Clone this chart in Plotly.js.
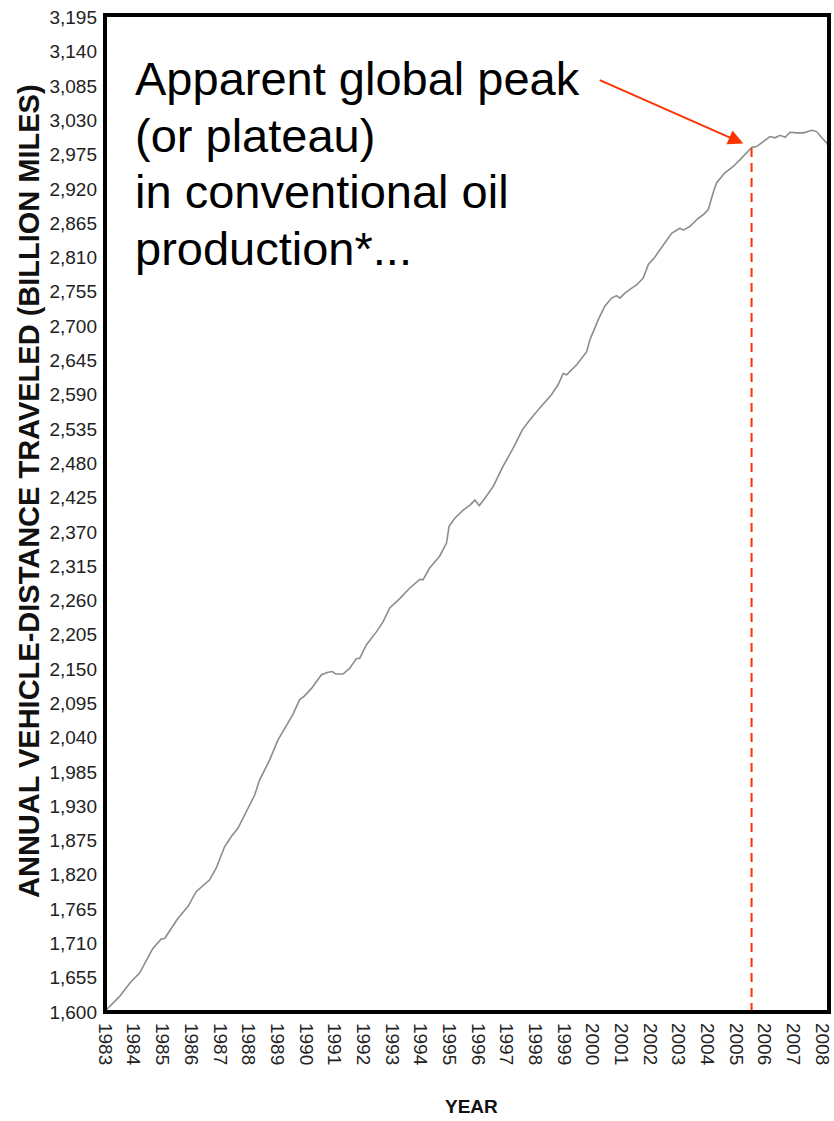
<!DOCTYPE html>
<html>
<head>
<meta charset="utf-8">
<script src="https://cdn.plot.ly/plotly-3.0.1.min.js"></script>
<style>
  html, body { margin: 0; padding: 0; background: #ffffff; }
  #chart { width: 834px; height: 1121px; }
</style>
</head>
<body>
<div id="chart"></div>
<script>
// ---- Data ----
const years = [
  1983.00, 1983.10, 1983.51, 1983.91, 1984.20, 1984.67, 1984.96, 1985.08, 1985.31, 1985.54,
  1985.89, 1986.18, 1986.65, 1986.88, 1987.17, 1987.40, 1987.64, 1987.93, 1988.22, 1988.39,
  1988.74, 1989.03, 1989.27, 1989.55, 1989.79, 1989.96, 1990.20, 1990.55, 1990.78, 1990.93,
  1991.05, 1991.30, 1991.53, 1991.77, 1991.88, 1992.12, 1992.47, 1992.70, 1992.93, 1993.28,
  1993.63, 1993.98, 1994.09, 1994.32, 1994.67, 1994.91, 1995.00, 1995.20, 1995.49, 1995.73,
  1995.90, 1996.05, 1996.25, 1996.54, 1996.88, 1997.23, 1997.56, 1997.82, 1998.17, 1998.57,
  1998.80, 1998.98, 1999.10, 1999.45, 1999.80, 1999.91, 2000.20, 2000.43, 2000.67, 2000.84,
  2000.96, 2001.13, 2001.37, 2001.54, 2001.77, 2001.95, 2002.18, 2002.53, 2002.76, 2003.05,
  2003.17, 2003.40, 2003.69, 2003.87, 2004.04, 2004.21, 2004.33, 2004.62, 2004.91, 2005.15,
  2005.32, 2005.56, 2005.73, 2005.90, 2006.02, 2006.19, 2006.37, 2006.54, 2006.72, 2006.89,
  2007.13, 2007.36, 2007.65, 2007.82, 2008.00, 2008.17, 2008.23
];
const vmtBillionMiles = [
  1602, 1606, 1625, 1649, 1662, 1702, 1717, 1718, 1734, 1750,
  1769, 1793, 1812, 1831, 1865, 1881, 1895, 1921, 1948, 1972,
  2004, 2036, 2055, 2077, 2101, 2107, 2119, 2141, 2145, 2146,
  2142, 2142, 2151, 2167, 2167, 2189, 2210, 2226, 2248, 2263,
  2280, 2294, 2293, 2312, 2331, 2352, 2379, 2392, 2405, 2413,
  2421, 2412, 2424, 2443, 2475, 2504, 2534, 2550, 2569, 2590,
  2606, 2624, 2622, 2638, 2659, 2678, 2710, 2732, 2745, 2749,
  2745, 2753, 2761, 2766, 2777, 2799, 2811, 2833, 2849, 2857,
  2854, 2860, 2873, 2879, 2887, 2914, 2930, 2946, 2956, 2967,
  2975, 2987, 2988, 2994, 2999, 3004, 3002, 3006, 3003, 3011,
  3010, 3010, 3014, 3012, 3002, 2994, 2987
];

const xTickVals = [1983, 1984, 1985, 1986, 1987, 1988, 1989, 1990, 1991, 1992, 1993, 1994, 1995,
                   1996, 1997, 1998, 1999, 2000, 2001, 2002, 2003, 2004, 2005, 2006, 2007, 2008];
const xTickText = ["1983", "1984", "1985", "1986", "1987", "1988", "1989", "1990", "1991", "1992",
                   "1993", "1994", "1995", "1996", "1997", "1998", "1999", "2000", "2001", "2002",
                   "2003", "2004", "2005", "2006", "2007", "2008"];
const yTickVals = [1600, 1655, 1710, 1765, 1820, 1875, 1930, 1985, 2040, 2095, 2150, 2205, 2260,
                   2315, 2370, 2425, 2480, 2535, 2590, 2645, 2700, 2755, 2810, 2865, 2920, 2975,
                   3030, 3085, 3140, 3195];

const peakYear = 2005.55;      // dashed marker year
const peakValue = 2987;        // value of the line at the marker
const arrowTarget = [2005.26, 2993];

const annotationLines = ["Apparent global peak", "(or plateau)", "in conventional oil", "production*..."];
const yTitle = "ANNUAL VEHICLE-DISTANCE TRAVELED (BILLION MILES)";
const xTitle = "YEAR";

// ---- Layout geometry ----
const W = 834, H = 1121;
const L = 105, R = 5, T = 15, B = 109;
const plotW = W - L - R, plotH = H - T - B;
const px2paperX = (px) => (px - L) / plotW;
const px2paperY = (py) => (H - B - py) / plotH;

const red = "rgb(255,51,0)";
const FONT = "Liberation Sans, Arial, Helvetica, sans-serif";

const trace = {
  x: years,
  y: vmtBillionMiles,
  type: "scatter",
  mode: "lines",
  line: { color: "#8c8c8c", width: 1.6 },
  hoverinfo: "skip"
};

const lineBaselines = [95, 152, 208, 265];
const textSize = 47;
const annotations = annotationLines.map((t, i) => ({
  text: t,
  xref: "paper", yref: "paper",
  x: px2paperX(133),
  y: px2paperY(lineBaselines[i] - 0.347 * textSize),
  xanchor: "left", yanchor: "middle",
  showarrow: false,
  font: { family: FONT, size: textSize, color: "#000000" }
}));

annotations.push({
  x: arrowTarget[0], y: arrowTarget[1], xref: "x", yref: "y",
  ax: -145, ay: -64, axref: "pixel", ayref: "pixel",
  text: "", showarrow: true,
  arrowhead: 2, arrowsize: 1.5, arrowwidth: 2, arrowcolor: red, standoff: 0
});

annotations.push({
  text: "<b>" + yTitle + "</b>",
  xref: "paper", yref: "paper",
  x: px2paperX(29), y: px2paperY(491),
  xanchor: "center", yanchor: "middle",
  textangle: -90, showarrow: false,
  font: { family: FONT, size: 29, color: "#111111" }
});

annotations.push({
  text: "<b>" + xTitle + "</b>",
  xref: "paper", yref: "paper",
  x: px2paperX(471), y: px2paperY(1119),
  xanchor: "center", yanchor: "bottom",
  showarrow: false,
  font: { family: FONT, size: 19, color: "#111111" }
});

const layout = {
  width: W, height: H,
  margin: { l: L, r: R, t: T, b: B, pad: 0 },
  paper_bgcolor: "#ffffff",
  plot_bgcolor: "#ffffff",
  showlegend: false,
  font: { family: FONT, color: "#222222" },
  xaxis: {
    range: [1983, 2008.25],
    tickmode: "array", tickvals: xTickVals, ticktext: xTickText,
    tickangle: 90,
    ticks: "", showgrid: false, zeroline: false, showline: false,
    tickfont: { family: FONT, size: 19, color: "#222222" },
    ticklabelstandoff: 10,
    fixedrange: true
  },
  yaxis: {
    range: [1600, 3199],
    tickmode: "array", tickvals: yTickVals,
    tickformat: ",d",
    ticks: "", showgrid: false, zeroline: false, showline: false,
    tickfont: { family: FONT, size: 19, color: "#222222" },
    ticklabelstandoff: 7,
    fixedrange: true
  },
  shapes: [
    {
      type: "line", xref: "x", yref: "y",
      x0: peakYear, x1: peakYear, y0: 1600, y1: peakValue,
      line: { color: red, width: 2, dash: "9px,6px" }
    },
    {
      type: "rect", xref: "paper", yref: "paper",
      x0: 0, x1: 1, y0: 0, y1: 1,
      line: { color: "#000000", width: 4 },
      layer: "above"
    }
  ],
  annotations: annotations
};

Plotly.newPlot("chart", [trace], layout, { staticPlot: true, displayModeBar: false });
</script>
</body>
</html>
